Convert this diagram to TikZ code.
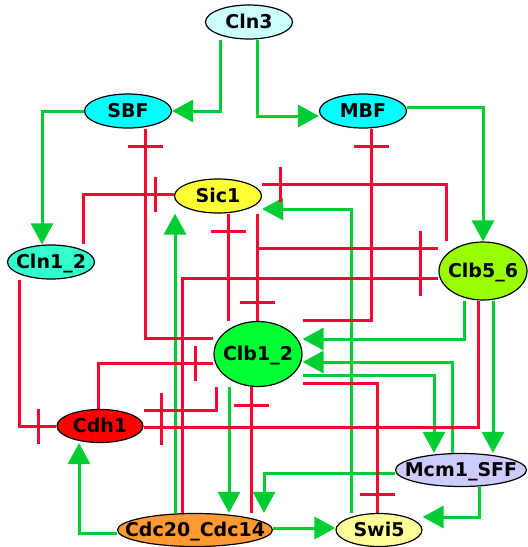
\documentclass[tikz,border=0pt]{standalone}
\usepackage{fontspec}
\setmainfont{DejaVu Sans}
\usetikzlibrary{arrows.meta,decorations.markings,backgrounds,shapes.geometric}

\definecolor{actgreen}{RGB}{0,204,51}
\definecolor{inhred}{RGB}{255,0,51}
\definecolor{cClnThree}{RGB}{204,255,255}
\definecolor{cTF}{RGB}{0,255,255}
\definecolor{cSic}{RGB}{255,255,51}
\definecolor{cClnOne}{RGB}{51,255,204}
\definecolor{cClbFive}{RGB}{153,255,0}
\definecolor{cClbOne}{RGB}{0,255,51}
\definecolor{cCdh}{RGB}{255,0,0}
\definecolor{cMcm}{RGB}{204,204,255}
\definecolor{cCdc}{RGB}{255,153,51}
\definecolor{cSwi}{RGB}{255,255,153}

% gene label: centred text that does not widen the ellipse
\newcommand\genelabel[1]{\makebox[0pt]{#1}}

\begin{document}
\begin{tikzpicture}[x=1pt,y=-1pt,
  gene/.style={ellipse, draw=black, line width=1.2pt, inner sep=0pt,
    text height=13.8pt, text depth=0pt,
    font=\bfseries\fontsize{19}{19}\selectfont},
  act/.style={draw=actgreen, line width=3pt,
    -{Triangle[length=21pt,width=22pt]}},
  inh/.style={draw=inhred, line width=3pt, postaction={decorate},
    decoration={markings, mark=at position -18pt with
      {\draw[inhred, line width=3pt] (0,-17.5pt) -- (0,17.5pt);}}},
]
\useasboundingbox (0,0) rectangle (528,547);

% genes
\node[gene, fill=cClnThree, minimum width=87pt, minimum height=34pt] (Cln3) at (249,22) {\genelabel{Cln3}};
\node[gene, fill=cTF, minimum width=87pt, minimum height=34pt] (SBF) at (128,111) {\genelabel{SBF}};
\node[gene, fill=cTF, minimum width=87pt, minimum height=34pt] (MBF) at (363,111) {\genelabel{MBF}};
\node[gene, fill=cSic, minimum width=87pt, minimum height=34pt] (Sic1) at (218,196) {\genelabel{Sic1}};
\node[gene, fill=cClnOne, minimum width=87pt, minimum height=34pt] (Cln12) at (51,262) {\genelabel{Cln1\_2}};
\node[gene, fill=cClbFive, minimum width=88pt, minimum height=58pt] (Clb56) at (483,271) {\genelabel{Clb5\_6}};
\node[gene, fill=cClbOne, minimum width=88pt, minimum height=65pt] (Clb12) at (258,354) {\genelabel{Clb1\_2}};
\node[gene, fill=cCdh, minimum width=86pt, minimum height=33pt] (Cdh1) at (100,426) {\genelabel{Cdh1}};
\node[gene, fill=cMcm, minimum width=131pt, minimum height=33pt] (Mcm1) at (461,470) {\genelabel{Mcm1\_SFF}};
\node[gene, fill=cCdc, minimum width=155pt, minimum height=33pt] (Cdc20) at (195,530) {\genelabel{Cdc20\_Cdc14}};
\node[gene, fill=cSwi, minimum width=86pt, minimum height=33pt] (Swi5) at (379,530) {\genelabel{Swi5}};

\begin{scope}[on background layer]
\fill[white] (0,0) rectangle (528,547);
% activations
\draw[act] (Cln3.south -| 220,0) |- (SBF.east);
\draw[act] (Cln3.south -| 257,0) |- (MBF.west |- 0,116);
\draw[act] (SBF.west) -| (Cln12.north -| 42,0);
\draw[act] (MBF.east |- 0,107) -| (Clb56.north);
\draw[act] (Cdc20.north -| 175,0) -- (Sic1.south -| 175,0);
\draw[act] (Swi5.north -| 351,0) |- (Sic1.east |- 0,209);
\draw[act] (Clb56.south -| 464,0) |- (Clb12.east |- 0,339);
\draw[act] (Mcm1.north -| 452,0) |- (Clb12.east |- 0,362);
\draw[act] (Clb12.east |- 0,375) -| (Mcm1.north -| 434,0);
\draw[act] (Clb56.south -| 493,0) -- (Mcm1.north -| 493,0);
\draw[act] (Clb12.south -| 229,0) -- (Cdc20.north -| 229,0);
\draw[act] (Mcm1.west |- 0,473) -| (Cdc20.north -| 264,0);
\draw[act] (Mcm1.south -| 479,0) |- (Swi5.east |- 0,517);
\draw[act] (Cdc20.east |- 0,528) -- (Swi5.west |- 0,528);
\draw[act] (Cdc20.west |- 0,533) -| (Cdh1.south -| 79,0);
% inhibitions
\draw[inh] (Clb12.west |- 0,338) -| (SBF.south -| 145,0);
\draw[inh] (Clb12.north -| Clb12.east) -| (MBF.south -| 371,0);
\draw[inh] (Cln12.north -| 83,0) |- (Sic1.west |- 0,194);
\draw[inh] (Clb56.north -| 446,0) |- (Sic1.east |- 0,184);
\draw[inh] (Clb12.north -| 228,0) -- (Sic1.south -| 228,0);
\draw[inh] (Sic1.south -| 257,0) -- (Clb12.north -| 257,0);
\draw[inh] (Sic1.south -| 257,0) |- (Clb56.west |- 0,248);
\draw[inh] (Cdc20.north -| 182,0) |- (Clb56.west |- 0,278);
\draw[inh] (Cdc20.north -| 251,0) -- (Clb12.south -| 251,0);
\draw[inh] (Cdh1.north -| 98,0) |- (Clb12.west |- 0,363);
\draw[inh] (Clb12.south -| 216,0) |- (Cdh1.east |- 0,410);
\draw[inh] (Clb56.south -| 478,0) |- (Cdh1.east |- 0,427);
\draw[inh] (Cln12.south -| 19,0) |- (Cdh1.west |- 0,426);
\draw[inh] (Clb12.east |- 0,383) -| (Swi5.north -| 377,0);
\end{scope}
\end{tikzpicture}
\end{document}
